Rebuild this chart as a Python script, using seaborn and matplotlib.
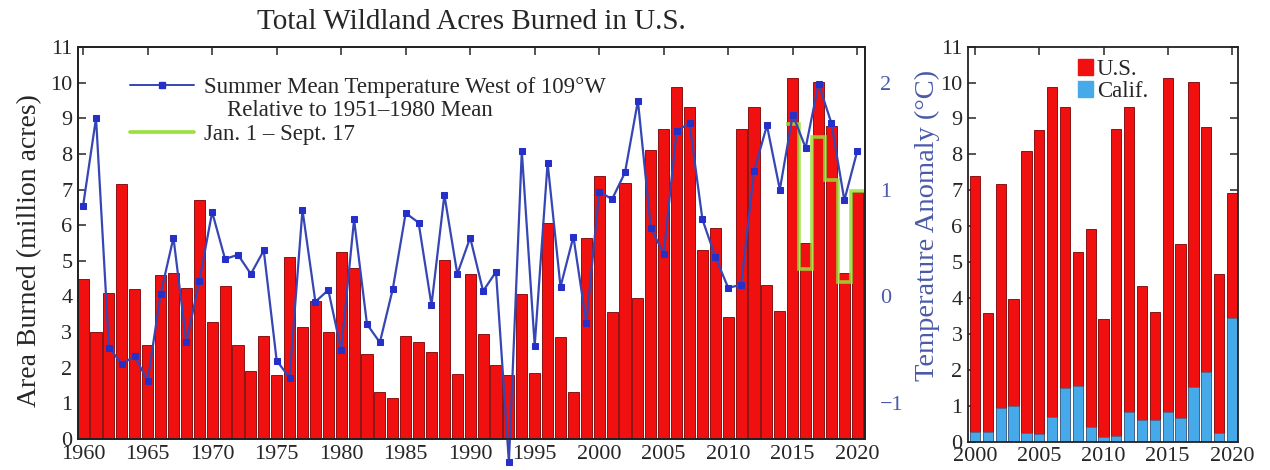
import numpy as np
import pandas as pd
import matplotlib.pyplot as plt
import seaborn as sns
from matplotlib.lines import Line2D
from matplotlib.patches import Patch

# U.S. wildland acres burned (million acres), 1960-2020
years = list(range(1960, 2021))
us_acres = [4.49, 3.01, 4.09, 7.15, 4.20, 2.64, 4.59, 4.66, 4.25, 6.72,
            3.28, 4.29, 2.64, 1.92, 2.88, 1.80, 5.11, 3.15, 3.86, 2.99,
            5.26, 4.81, 2.38, 1.32, 1.15, 2.90, 2.72, 2.45, 5.01, 1.83,
            4.62, 2.95, 2.07, 1.80, 4.07, 1.84, 6.07, 2.86, 1.33, 5.63,
            7.39, 3.57, 7.18, 3.96, 8.10, 8.69, 9.87, 9.33, 5.29, 5.92,
            3.42, 8.71, 9.33, 4.32, 3.60, 10.13, 5.51, 10.03, 8.77, 4.66,
            6.93]

# summer mean temperature anomaly west of 109W (deg C, rel. 1951-1980)
temp_anom = [0.85, 1.67, -0.48, -0.63, -0.56, -0.79, 0.02, 0.55, -0.43, 0.14,
             0.79, 0.35, 0.39, 0.21, 0.43, -0.60, -0.76, 0.81, -0.05, 0.06,
             -0.50, 0.72, -0.26, -0.43, 0.07, 0.78, 0.69, -0.08, 0.95, 0.21,
             0.55, 0.05, 0.23, -1.55, 1.36, -0.46, 1.25, 0.09, 0.56, -0.25,
             0.98, 0.91, 1.16, 1.83, 0.64, 0.40, 1.55, 1.62, 0.72, 0.37,
             0.08, 0.11, 1.17, 1.60, 1.00, 1.70, 1.39, 1.99, 1.62, 0.90,
             1.36]

# Jan. 1 - Sept. 17 totals for recent years
partial_years = [2015, 2016, 2017, 2018, 2019, 2020]
partial_acres = [8.85, 4.78, 8.48, 7.27, 4.40, 6.97]

# right panel: U.S. vs California, 2000-2020
recent_years = list(range(2000, 2021))
calif_acres = [0.27, 0.27, 0.93, 1.00, 0.25, 0.22, 0.69, 1.49, 1.55, 0.41,
               0.13, 0.15, 0.83, 0.60, 0.60, 0.83, 0.65, 1.53, 1.95, 0.25,
               3.44]

df = pd.DataFrame({"year": years, "us": us_acres, "temp": temp_anom})
recent = df[df["year"].isin(recent_years)].copy()
recent["calif"] = calif_acres

sns.set_theme(style="ticks")
plt.rcParams["font.family"] = ["Liberation Serif", "DejaVu Serif"]
plt.rcParams["xtick.direction"] = "in"
plt.rcParams["ytick.direction"] = "in"

RED = "#f01010"
EDGE = "#7a0000"
BLUE = "#3646b4"
GREEN = "#9ae03a"
CALIF = "#45a9ea"
TEMP_TXT = "#4a5aa8"

fig = plt.figure(figsize=(12.7, 4.7), dpi=100)
ax = fig.add_axes([0.0614, 0.066, 0.6197, 0.834])
ax3 = fig.add_axes([0.7622, 0.0606, 0.2124, 0.840])

# ---- left panel: bars + temperature
sns.barplot(data=df, x="year", y="us", native_scale=True, width=0.86,
            color=RED, saturation=1, edgecolor=EDGE, linewidth=0.6,
            errorbar=None, ax=ax)
edges = np.append(np.array(partial_years) - 0.5, partial_years[-1] + 0.5)
ax.stairs(partial_acres, edges, baseline=None, color=GREEN, lw=2.6,
          alpha=0.85, zorder=3)

ax.set_xlim(1959.6, 2020.6)
ax.set_ylim(0, 11)
ax.set_xticks(range(1960, 2021, 5))
ax.set_yticks(range(0, 12))
ax.tick_params(labelsize=16, length=6, width=1.1, top=True, right=True, pad=4)
ax.set_xlabel("")
ax.set_ylabel("Area Burned (million acres)", fontsize=20)
ax.yaxis.set_label_coords(-0.046, 0.48)
ax.set_title("Total Wildland Acres Burned in U.S.", fontsize=21, pad=13)

ax2 = ax.twinx()
sns.lineplot(data=df, x="year", y="temp", ax=ax2, color=BLUE, lw=1.6,
             marker="s", markersize=5, markerfacecolor="#2530c8",
             markeredgecolor="#2530c8", clip_on=False)
ax2.set_ylim(-4 / 3, 7 / 3)
ax2.set_yticks([-1, 0, 1, 2])
ax2.set_yticklabels(["\u22121", "0", "1", "2"])
ax2.tick_params(axis="y", length=0, pad=11, labelsize=16, labelcolor=TEMP_TXT)
ax2.set_ylabel("Temperature Anomaly (\u00b0C)", fontsize=20.5, color=TEMP_TXT)
ax2.yaxis.set_label_coords(1.063, 0.545)
ax2.set_xlabel("")

handles = [
    Line2D([], [], color=BLUE, lw=1.4, marker="s", markersize=4,
           markerfacecolor="#2530c8", markeredgecolor="#2530c8"),
    Line2D([], [], linestyle="none"),
    Line2D([], [], color=GREEN, lw=2.6),
]
labels = ["Summer Mean Temperature West of 109\u00b0W",
          "    Relative to 1951\u20131980 Mean",
          "Jan. 1 \u2013 Sept. 17"]
ax2.legend(handles, labels, loc="upper left", bbox_to_anchor=(0.054, 0.948),
           frameon=False, fontsize=16.5, handlelength=2.8, handletextpad=0.45,
           labelspacing=0.12, borderaxespad=0)

# ---- right panel: U.S. vs California
sns.barplot(data=recent, x="year", y="us", native_scale=True, width=0.8,
            color=RED, saturation=1, edgecolor=EDGE, linewidth=0.6,
            errorbar=None, ax=ax3)
sns.barplot(data=recent, x="year", y="calif", native_scale=True, width=0.8,
            color=CALIF, saturation=1, edgecolor="#2a6e9a", linewidth=0.4,
            errorbar=None, ax=ax3)
ax3.set_xlim(1999.45, 2020.45)
ax3.set_ylim(0, 11)
ax3.set_xticks(range(2000, 2021, 5))
ax3.set_yticks(range(0, 12))
ax3.tick_params(labelsize=16, length=6, width=1.1, top=True, right=True, pad=4)
ax3.set_xlabel("")
ax3.set_ylabel("")
ax3.legend([Patch(color=RED), Patch(color=CALIF)], ["U.S.", "Calif."],
           loc="upper left", bbox_to_anchor=(0.375, 0.992), frameon=False,
           fontsize=16.5, handlelength=0.65, handleheight=0.65,
           handletextpad=0.15, labelspacing=0.05, borderaxespad=0)

for a in (ax, ax2, ax3):
    for s in a.spines.values():
        s.set_linewidth(1.3)
        s.set_color("#222222")

fig.savefig("out.png", dpi=100)
